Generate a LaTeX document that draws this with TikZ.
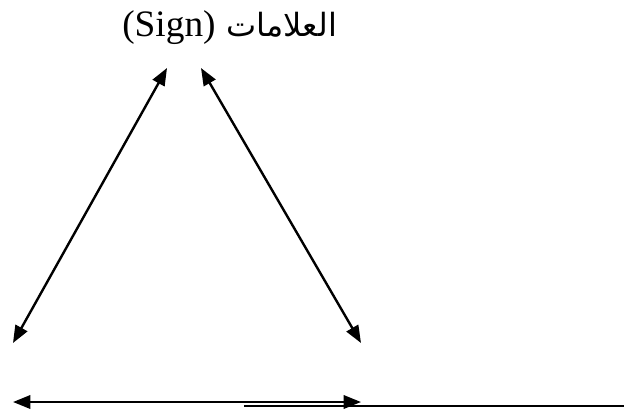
\documentclass[tikz,border=0pt]{standalone}
\usepackage{fontspec}
\setmainfont{Liberation Serif}
\newfontfamily\arabicfont[Script=Arabic]{DejaVu Sans}
\TeXXeTstate=1
\usetikzlibrary{arrows.meta}
\tikzset{
  ttl/.style={font=\fontsize{28pt}{32pt}\selectfont,inner sep=0pt},
  rel/.style={line width=1.8pt,{Triangle[length=13pt,width=10pt]}-{Triangle[length=13pt,width=10pt]}},
  base/.style={line width=1.9pt},
}

\begin{document}
\begin{tikzpicture}[x=0.75pt, y=-0.75pt]
  \useasboundingbox (0,0) rectangle (624,412);
  \node[ttl, anchor=base west] (sign) at (122,36) {(Sign)\hspace{0.3em}{\arabicfont\fontsize{24pt}{28pt}\selectfont\beginR العلامات\endR}};
  \coordinate (tl) at (167,68);
  \coordinate (tr) at (201,68);
  \coordinate (bl) at (13,343);
  \coordinate (br) at (361,343);
  \coordinate (hl) at (13,402);
  \coordinate (hr) at (361,402);
  \coordinate (ls) at (244,406);
  \coordinate (le) at (624,406);
  \draw[rel] (bl) -- (tl);
  \draw[rel] (tr) -- (br);
  \draw[rel] (hl) -- (hr);
  \draw[base] (ls) -- (le);
\end{tikzpicture}
\end{document}
